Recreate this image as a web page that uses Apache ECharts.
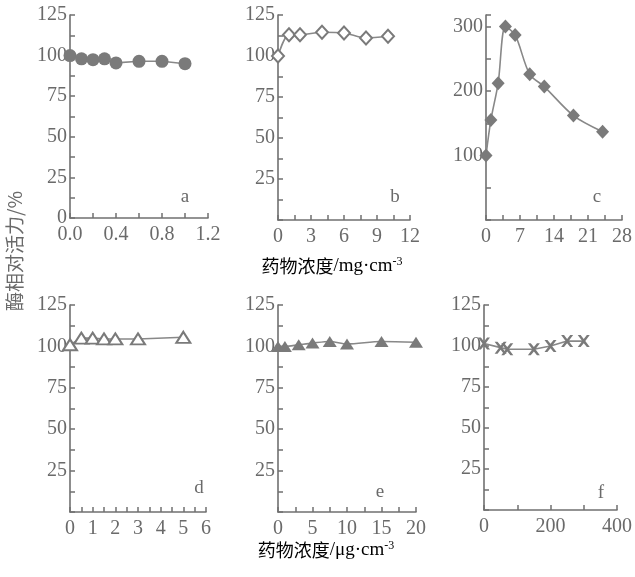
<!DOCTYPE html>
<html>
<head>
<meta charset="utf-8">
<script src="https://cdn.jsdelivr.net/npm/echarts@6/dist/echarts.min.js"></script>
<style>
  html, body { margin: 0; padding: 0; background: #fff; }
  #chart { width: 635px; height: 577px; }
</style>
</head>
<body>
<div id="chart"></div>
<script>
// panel data: drug concentration vs. relative enzyme activity (%)
const aX = [0, 0.1, 0.2, 0.3, 0.4, 0.6, 0.8, 1.0]
const aY = [100, 98, 97.5, 98, 95.5, 96.5, 96.5, 95]
const bX = [0, 1, 2, 4, 6, 8, 10]
const bY = [100, 113, 113, 114.5, 114, 111, 112]
const cX = [0, 1, 2.5, 4, 6, 9, 12, 18, 24]
const cY = [100, 155, 212, 300, 287, 226, 207, 162, 137]
const dX = [0, 0.5, 1, 1.5, 2, 3, 5]
const dY = [101, 105, 105, 104.5, 104.5, 104.5, 105.5]
const eX = [0, 1, 3, 5, 7.5, 10, 15, 20]
const eY = [100, 100, 101, 102, 103, 101.5, 103, 102.5]
const fX = [0, 50, 70, 150, 200, 250, 300]
const fY = [101.5, 99, 98, 98, 100, 103, 103]

const panelLetters = ['a', 'b', 'c', 'd', 'e', 'f']
const xTitleName = '药物浓度'
const xUnitTop = '/mg·cm'
const xUnitBottom = '/μg·cm'
const xUnitExp = '-3'
const yTitle = '酶相对活力/%'

const gray = '#707070'
const textGray = '#6a6a6a'
const serif = 'Liberation Serif'
const cjk = 'Noto Sans CJK SC'

const crossPath = 'path://M0,0 L2.4,0 L5,3.2 L7.6,0 L10,0 L6.3,5 L10,10 L7.6,10 L5,6.8 L2.4,10 L0,10 L3.7,5 Z'

const panels = [
  { x: aX, y: aY, grid: [70, 15, 138, 203], xr: [0, 1.2, 0.4], yr: [0, 125, 25], showZero: true,
    fmt: v => v.toFixed(1), symbol: 'circle', size: 13, hollow: false, smooth: false },
  { x: bX, y: bY, grid: [278, 15, 132, 205], xr: [0, 12, 3], yr: [0, 125, 25], showZero: false,
    fmt: v => String(v), symbol: 'diamond', size: [12, 13], hollow: true, smooth: 0.3 },
  { x: cX, y: cY, grid: [486, 15, 137, 205], xr: [0, 28, 7], yr: [0, 318, 100], showZero: false,
    fmt: v => String(v), symbol: 'diamond', size: [13, 14], hollow: false, smooth: 0.3 },
  { x: dX, y: dY, grid: [70, 305, 136, 207], xr: [0, 6, 1], yr: [0, 125, 25], showZero: false,
    fmt: v => String(v), symbol: 'triangle', size: [14, 11], hollow: true, smooth: false },
  { x: eX, y: eY, grid: [278, 305, 138, 207], xr: [0, 20, 5], yr: [0, 125, 25], showZero: false,
    fmt: v => String(v), symbol: 'triangle', size: [14, 11], hollow: false, smooth: 0.3 },
  { x: fX, y: fY, grid: [484, 305, 138, 205], xr: [0, 400, 200], yr: [0, 125, 25], showZero: false,
    fmt: v => String(v), symbol: crossPath, size: 12, hollow: false, smooth: false }
]

const axisCommon = {
  axisLine: { show: true, onZero: false, lineStyle: { color: gray, width: 1.6 } },
  axisTick: { show: true, inside: true, length: 5, lineStyle: { color: gray, width: 1.5 } },
  minorTick: { show: true, splitNumber: 2, length: 5, lineStyle: { color: gray, width: 1.5 } },
  splitLine: { show: false }
}

const labelStyle = { color: textGray, fontFamily: serif, fontSize: 20 }

const grids = [], xAxes = [], yAxes = [], series = []
panels.forEach((p, i) => {
  grids.push({ left: p.grid[0], top: p.grid[1], width: p.grid[2], height: p.grid[3] })
  xAxes.push({
    ...axisCommon, type: 'value', gridIndex: i,
    min: p.xr[0], max: p.xr[1], interval: p.xr[2],
    axisLabel: { ...labelStyle, margin: 7, formatter: p.fmt }
  })
  yAxes.push({
    ...axisCommon, type: 'value', gridIndex: i,
    min: p.yr[0], max: p.yr[1], interval: p.yr[2],
    axisLabel: {
      ...labelStyle, margin: 3,
      formatter: v => (v === 0 && !p.showZero) || v % p.yr[2] !== 0 ? '' : String(v)
    }
  })
  series.push({
    type: 'line', xAxisIndex: i, yAxisIndex: i,
    data: p.x.map((x, k) => [x, p.y[k]]),
    smooth: p.smooth,
    symbol: p.symbol, symbolSize: p.size,
    lineStyle: { color: '#888', width: 1.6 },
    itemStyle: p.hollow
      ? { color: '#fff', borderColor: '#7a7a7a', borderWidth: 2 }
      : { color: '#7a7a7a', borderWidth: 0 },
    z: 3
  })
})

const letterPos = [[185, 197], [395, 197], [597, 197], [199, 488], [380, 492], [601, 493]]
const graphics = panelLetters.map((l, i) => ({
  type: 'text', x: letterPos[i][0], y: letterPos[i][1],
  style: { text: l, font: '19px ' + serif, fill: textGray, textAlign: 'center', textVerticalAlign: 'middle' }
}))

const titleRich = {
  t: { fontFamily: cjk, fontSize: 18, color: textGray },
  u: { fontFamily: serif, fontSize: 19, color: textGray },
  s: { fontFamily: serif, fontSize: 12, color: textGray, verticalAlign: 'top', padding: [0, 0, 9, 0] }
}
const titleText = unit => '{t|' + xTitleName + '}{u|' + unit + '}{s|' + xUnitExp + '}'
graphics.push({
  type: 'text', x: 332, y: 266,
  style: { text: titleText(xUnitTop), rich: titleRich, textAlign: 'center', textVerticalAlign: 'middle' }
})
graphics.push({
  type: 'text', x: 326, y: 550,
  style: { text: titleText(xUnitBottom), rich: titleRich, textAlign: 'center', textVerticalAlign: 'middle' }
})
graphics.push({
  type: 'text', x: 15, y: 251, rotation: Math.PI / 2,
  style: { text: yTitle, font: '19px ' + cjk, fill: textGray, textAlign: 'center', textVerticalAlign: 'middle' }
})

const chart = echarts.init(document.getElementById('chart'))
chart.setOption({
  backgroundColor: '#fff',
  animation: false,
  grid: grids,
  xAxis: xAxes,
  yAxis: yAxes,
  series: series,
  graphic: graphics
})
</script>
</body>
</html>
